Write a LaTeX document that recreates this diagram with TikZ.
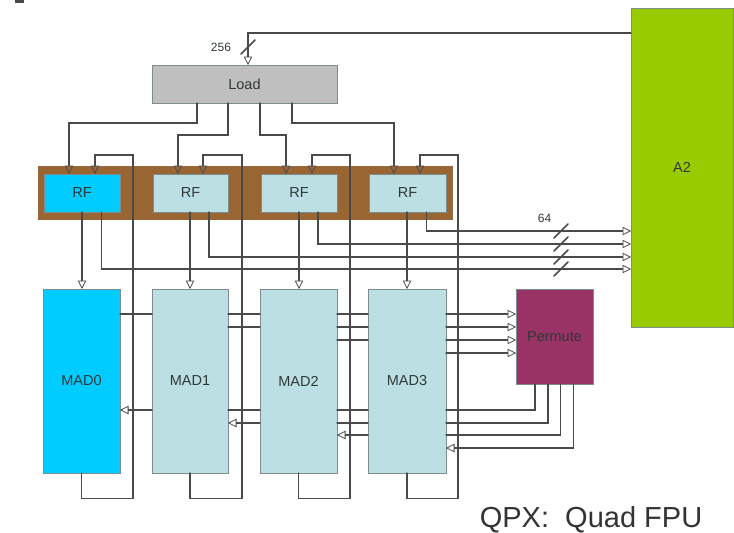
\documentclass[tikz,border=0pt]{standalone}
\usepackage{fontspec}
\setmainfont{Liberation Sans}
\usetikzlibrary{arrows.meta}
\definecolor{wirec}{HTML}{4A4A4A}
\definecolor{edgec}{HTML}{7F8C8E}
\definecolor{txtc}{HTML}{303838}
\definecolor{rfblue}{HTML}{00CCFF}
\definecolor{rflight}{HTML}{BCDFE3}
\definecolor{brownc}{HTML}{996633}
\definecolor{greenc}{HTML}{99CC00}
\definecolor{purplec}{HTML}{993366}
\definecolor{loadc}{HTML}{BFBFBF}
\tikzset{
  blockbox/.style={draw=edgec,line width=0.9pt,inner sep=0pt,outer sep=0pt,anchor=north west,align=center,text=txtc,font=\fontsize{14.5}{16}\selectfont},
  wire/.style={draw=wirec,line width=1.1pt,line cap=round},
  into/.style={wire,-{Triangle[open,length=8.5pt,width=8.5pt,line width=0.8pt]},draw=wirec},
  slashmark/.style={draw=wirec,line width=1.5pt,line cap=round},
  smalltext/.style={text=txtc,inner sep=0pt,font=\fontsize{12}{14}\selectfont},
}
\newcommand{\blk}[7]{\node[blockbox,fill=#6,minimum width=#4pt-#2pt,minimum height=#5pt-#3pt] (#1) at (#2,#3) {#7};}
\begin{document}
\begin{tikzpicture}[x=1pt,y=-1pt]
\useasboundingbox (0,0) rectangle (734,533);
% corner mark
\fill[wirec] (15,0) rectangle (24,2.5);
% brown band
\node[draw=brownc!85!gray,fill=brownc,line width=0.8pt,minimum width=414pt,minimum height=53pt,inner sep=0pt,anchor=north west] (band) at (38,166) {};
% blocks
\blk{load}{152}{65}{337}{103}{loadc}{Load}
\blk{rfa}{44}{174}{120}{212}{rfblue}{RF}
\blk{rfb}{153}{174}{228}{212}{rflight}{RF}
\blk{rfc}{261}{174}{337}{212}{rflight}{RF}
\blk{rfd}{369}{174}{446}{212}{rflight}{RF}
\blk{mada}{43}{289}{120}{473}{rfblue}{MAD0}
\blk{madb}{152}{289}{228}{473}{rflight}{MAD1}
\blk{madc}{260}{289}{337}{473}{rflight}{MAD2}
\blk{madd}{368}{289}{446}{473}{rflight}{MAD3}
\blk{perm}{516}{289}{593}{384}{purplec}{Permute}
\blk{aii}{631}{8}{733}{327}{greenc}{A2}
% A2 to Load
\draw[into] ([yshift=-25pt]aii.north west) -| ([xshift=96pt]load.north west);
\coordinate (sl) at (248,47);
\draw[slashmark] ([shift={(-7,7)}]sl) -- ([shift={(7,-7)}]sl);
\node[smalltext] (lbla) at (221,47) {256};
% Load to RF
\draw[into] ([xshift=45pt]load.south west) -- ++(0,20) -| ([xshift=25pt]rfa.north west);
\draw[into] ([xshift=76pt]load.south west) -- ++(0,32) -| ([xshift=25pt]rfb.north west);
\draw[into] ([xshift=108pt]load.south west) -- ++(0,32) -| ([xshift=25pt]rfc.north west);
\draw[into] ([xshift=140pt]load.south west) -- ++(0,20) -| ([xshift=25pt]rfd.north west);
% MAD bottom feedback to RF
\draw[into] (mada.south) -- ++(0,25.5) -| (133,155) -| ([xshift=51pt]rfa.north west);
\draw[into] (madb.south) -- ++(0,25.5) -| (242,155) -| ([xshift=50pt]rfb.north west);
\draw[into] (madc.south) -- ++(0,25.5) -| (350,155) -| ([xshift=51pt]rfc.north west);
\draw[into] (madd.south) -- ++(0,25.5) -| (458,155) -| ([xshift=51pt]rfd.north west);
% RF to MAD
\draw[into] ([xshift=38pt]rfa.south west) -- ([xshift=39pt]mada.north west);
\draw[into] ([xshift=37pt]rfb.south west) -- ([xshift=38pt]madb.north west);
\draw[into] ([xshift=38pt]rfc.south west) -- ([xshift=39pt]madc.north west);
\draw[into] ([xshift=38pt]rfd.south west) -- ([xshift=39pt]madd.north west);
% RF to A2
\draw[into] ([xshift=57.5pt]rfd.south west) |- ([yshift=-223pt]aii.north west);
\draw[into] ([xshift=57pt]rfc.south west) |- ([yshift=-236pt]aii.north west);
\draw[into] ([xshift=56pt]rfb.south west) |- ([yshift=-249pt]aii.north west);
\draw[into] ([xshift=57.5pt]rfa.south west) |- ([yshift=-261pt]aii.north west);
\foreach \yy in {231,244,257,269}{
  \draw[slashmark] (554,\yy+7) -- (568,\yy-7);
}
\node[smalltext] (lblb) at (544.5,218) {64};
% MAD chain
\draw[wire] ([yshift=-25pt]mada.north east) -- ([yshift=-25pt]madb.north west);
\draw[into] ([yshift=-121pt]madb.north west) -- ([yshift=-121pt]mada.north east);
\draw[wire] ([yshift=-25pt]madb.north east) -- ([yshift=-25pt]madc.north west);
\draw[wire] ([yshift=-38pt]madb.north east) -- ([yshift=-38pt]madc.north west);
\draw[wire] ([yshift=-121pt]madc.north west) -- ([yshift=-121pt]madb.north east);
\draw[into] ([yshift=-134pt]madc.north west) -- ([yshift=-134pt]madb.north east);
\draw[wire] ([yshift=-25pt]madc.north east) -- ([yshift=-25pt]madd.north west);
\draw[wire] ([yshift=-38pt]madc.north east) -- ([yshift=-38pt]madd.north west);
\draw[wire] ([yshift=-51pt]madc.north east) -- ([yshift=-51pt]madd.north west);
\draw[wire] ([yshift=-121pt]madd.north west) -- ([yshift=-121pt]madc.north east);
\draw[wire] ([yshift=-134pt]madd.north west) -- ([yshift=-134pt]madc.north east);
\draw[into] ([yshift=-146pt]madd.north west) -- ([yshift=-146pt]madc.north east);
% MAD3 to Permute
\draw[into] ([yshift=-25pt]madd.north east) -- ([yshift=-25pt]perm.north west);
\draw[into] ([yshift=-38pt]madd.north east) -- ([yshift=-38pt]perm.north west);
\draw[into] ([yshift=-51pt]madd.north east) -- ([yshift=-51pt]perm.north west);
\draw[into] ([yshift=-64pt]madd.north east) -- ([yshift=-64pt]perm.north west);
% Permute to MAD3
\draw[wire] ([xshift=19pt]perm.south west) |- ([yshift=-121pt]madd.north east);
\draw[wire] ([xshift=32pt]perm.south west) |- ([yshift=-134pt]madd.north east);
\draw[wire] ([xshift=44.5pt]perm.south west) |- ([yshift=-146pt]madd.north east);
\draw[into] ([xshift=57.5pt]perm.south west) |- ([yshift=-159pt]madd.north east);
% caption
\node[inner sep=0pt,text=black!80,font=\fontsize{29}{32}\selectfont] (cap) at (591,520) {QPX:\ \ Quad FPU};
\end{tikzpicture}
\end{document}
